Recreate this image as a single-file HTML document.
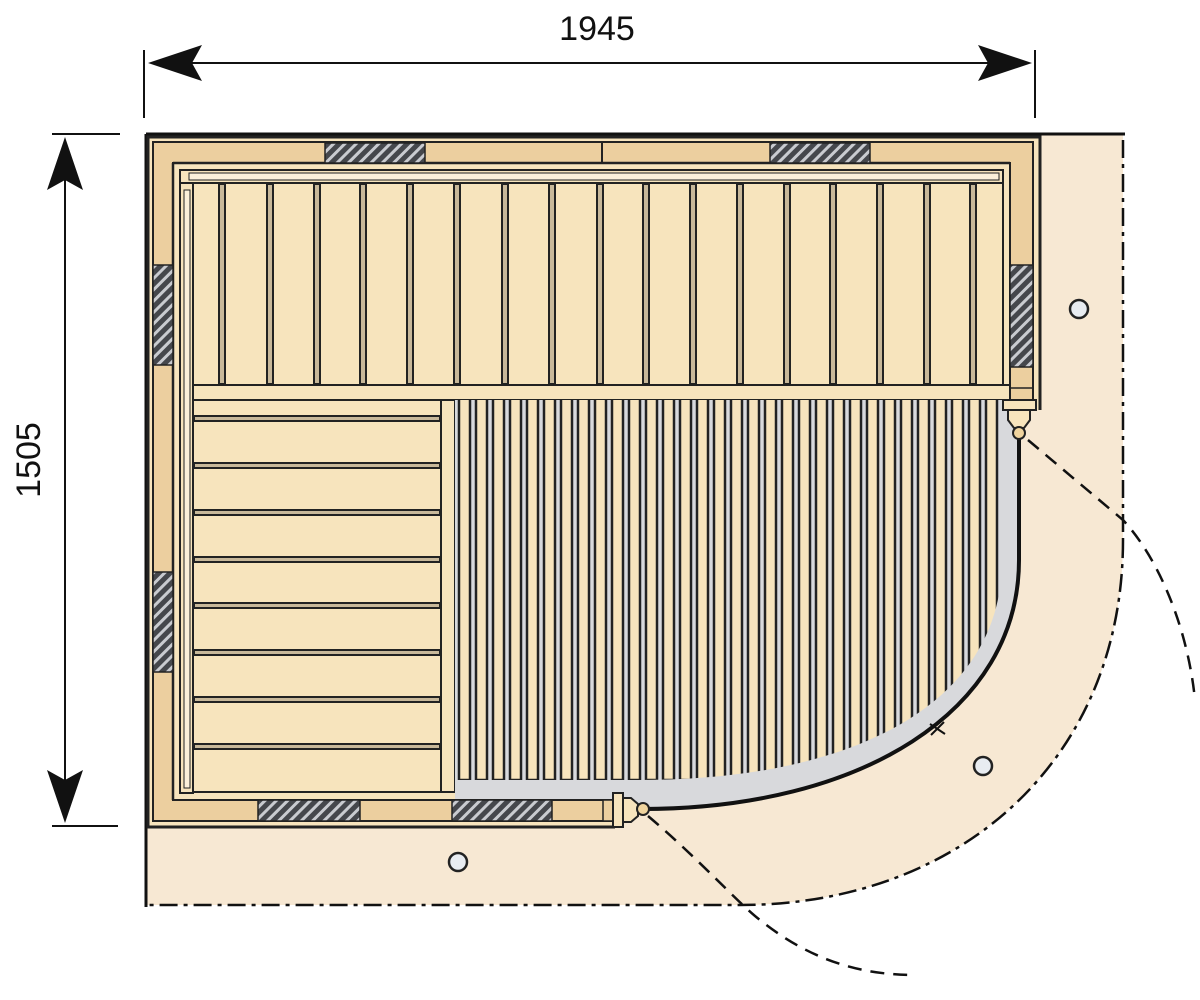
<!DOCTYPE html>
<html><head><meta charset="utf-8"><style>html,body{margin:0;padding:0;background:#fff}svg{display:block}</style></head>
<body>
<svg width="1200" height="1000" viewBox="0 0 1200 1000" xmlns="http://www.w3.org/2000/svg">
<defs>
<pattern id="h" width="8" height="8" patternUnits="userSpaceOnUse" patternTransform="rotate(45)">
<rect width="8" height="8" fill="#45474c"/><rect width="3" height="8" fill="#c9cbd0"/>
</pattern>
<clipPath id="fl"><path d="M455,400 H1002 V560 C1002,700 860,780 640,780 H455 Z"/></clipPath>
</defs>
<!-- floor -->
<path d="M146,135 H1123 V540 C1123,760 960,905 740,905 H146 Z" fill="#f7e8d3"/>
<line x1="146" y1="134" x2="1125" y2="134" stroke="#111" stroke-width="3"/>
<line x1="146" y1="134" x2="146" y2="907" stroke="#111" stroke-width="3"/>
<line x1="1123" y1="140" x2="1123" y2="540" stroke="#111" stroke-width="2.5" stroke-dasharray="18,6,4,6"/>
<path d="M1123,540 C1123,760 960,905 740,905 H146" fill="none" stroke="#111" stroke-width="2.5" stroke-dasharray="18,6,4,6"/>
<!-- sauna walls -->
<path d="M148,137 H1040 V410 H1003 V400 H455 V800 H613 V827 H148 Z" fill="#f7e4bd"/>
<path d="M153,142 H1033 V400 H1010 V163 H173 V800 H613 V821 H153 Z" fill="#eccf9f" stroke="#222" stroke-width="2"/>
<path d="M1040,410 V137 H148 V827 H615" fill="none" stroke="#222" stroke-width="3"/>
<line x1="173" y1="163" x2="1010" y2="163" stroke="#222" stroke-width="2.5"/>
<line x1="173" y1="163" x2="173" y2="800" stroke="#222" stroke-width="2.5"/>
<line x1="173" y1="800" x2="613" y2="800" stroke="#222" stroke-width="2"/>
<line x1="1010" y1="163" x2="1010" y2="400" stroke="#222" stroke-width="2"/>
<line x1="602" y1="143" x2="602" y2="163" stroke="#222" stroke-width="2"/>
<rect x="325" y="143" width="100" height="20" fill="url(#h)" stroke="#222" stroke-width="1.5"/>
<rect x="770" y="143" width="100" height="20" fill="url(#h)" stroke="#222" stroke-width="1.5"/>
<rect x="153" y="265" width="20" height="100" fill="url(#h)" stroke="#222" stroke-width="1.5"/>
<rect x="153" y="572" width="20" height="100" fill="url(#h)" stroke="#222" stroke-width="1.5"/>
<rect x="1010" y="265" width="23" height="102" fill="url(#h)" stroke="#222" stroke-width="1.5"/>
<line x1="1010" y1="388" x2="1033" y2="388" stroke="#222" stroke-width="1.5"/>
<rect x="258" y="800" width="102" height="21" fill="url(#h)" stroke="#222" stroke-width="1.5"/>
<rect x="452" y="800" width="100" height="21" fill="url(#h)" stroke="#222" stroke-width="1.5"/>
<rect x="603" y="800" width="10" height="21" fill="#eccf9f" stroke="#222" stroke-width="1.5"/>
<!-- inner side rails -->
<rect x="180" y="170" width="823" height="13" fill="#f7e4bd" stroke="#222" stroke-width="2"/>
<rect x="189" y="173" width="810" height="7" fill="#fbf0da" stroke="#222" stroke-width="1"/>
<rect x="180" y="183" width="13" height="610" fill="#f7e4bd" stroke="#222" stroke-width="2"/>
<rect x="184" y="190" width="6" height="598" fill="#fbf0da" stroke="#222" stroke-width="1"/>
<!-- upper bench -->
<rect x="193" y="183" width="810" height="202" fill="#f7e4bd" stroke="#222" stroke-width="2"/>
<g stroke="#222" stroke-width="2" fill="#c8b89a">
<rect x="219" y="184" width="6" height="200"/><rect x="267" y="184" width="6" height="200"/><rect x="314" y="184" width="6" height="200"/><rect x="360" y="184" width="6" height="200"/><rect x="407" y="184" width="6" height="200"/><rect x="454" y="184" width="6" height="200"/><rect x="502" y="184" width="6" height="200"/><rect x="549" y="184" width="6" height="200"/><rect x="597" y="184" width="6" height="200"/><rect x="643" y="184" width="6" height="200"/><rect x="690" y="184" width="6" height="200"/><rect x="737" y="184" width="6" height="200"/><rect x="784" y="184" width="6" height="200"/><rect x="830" y="184" width="6" height="200"/><rect x="877" y="184" width="6" height="200"/><rect x="924" y="184" width="6" height="200"/><rect x="970" y="184" width="6" height="200"/>
</g>
<rect x="193" y="385" width="817" height="15" fill="#f7e4bd" stroke="#222" stroke-width="2"/>
<!-- lower bench -->
<rect x="193" y="400" width="248" height="392" fill="#f7e4bd" stroke="#222" stroke-width="2"/>
<g stroke="#222" stroke-width="2" fill="#c8b89a">
<rect x="194" y="416" width="246" height="5"/><rect x="194" y="463" width="246" height="5"/><rect x="194" y="510" width="246" height="5"/><rect x="194" y="557" width="246" height="5"/><rect x="194" y="603" width="246" height="5"/><rect x="194" y="650" width="246" height="5"/><rect x="194" y="697" width="246" height="5"/><rect x="194" y="744" width="246" height="5"/>
</g>
<rect x="441" y="400" width="14" height="392" fill="#f7e4bd" stroke="#222" stroke-width="2"/>
<!-- glass + floor grate -->
<path d="M455,400 H1020 V560 C1020,712 860,810 640,810 L620,799 H455 Z" fill="#d8d9dc"/>
<g clip-path="url(#fl)" stroke="#222" stroke-width="2.5" fill="#f7e4bd">
<rect x="459" y="396" width="11" height="384"/><rect x="476" y="396" width="11" height="384"/><rect x="493" y="396" width="11" height="384"/><rect x="510" y="396" width="11" height="384"/><rect x="527" y="396" width="11" height="384"/><rect x="544" y="396" width="11" height="384"/><rect x="561" y="396" width="11" height="384"/><rect x="578" y="396" width="11" height="384"/><rect x="595" y="396" width="11" height="384"/><rect x="612" y="396" width="11" height="384"/><rect x="629" y="396" width="11" height="384"/><rect x="646" y="396" width="11" height="384"/><rect x="663" y="396" width="11" height="384"/><rect x="680" y="396" width="11" height="384"/><rect x="697" y="396" width="11" height="384"/><rect x="714" y="396" width="11" height="384"/><rect x="731" y="396" width="11" height="384"/><rect x="748" y="396" width="11" height="384"/><rect x="765" y="396" width="11" height="384"/><rect x="782" y="396" width="11" height="384"/><rect x="799" y="396" width="11" height="384"/><rect x="816" y="396" width="11" height="384"/><rect x="833" y="396" width="11" height="384"/><rect x="850" y="396" width="11" height="384"/><rect x="867" y="396" width="11" height="384"/><rect x="884" y="396" width="11" height="384"/><rect x="901" y="396" width="11" height="384"/><rect x="918" y="396" width="11" height="384"/><rect x="935" y="396" width="11" height="384"/><rect x="952" y="396" width="11" height="384"/><rect x="969" y="396" width="11" height="384"/><rect x="986" y="396" width="11" height="384"/>
</g>
<path d="M1019,438 V560 C1019,712 860,809 642,809" fill="none" stroke="#111" stroke-width="4"/>
<path d="M931,735 L944,722 M930,724 L945,734" stroke="#111" stroke-width="2"/>
<!-- hinges -->
<rect x="1003" y="400" width="33" height="10" fill="#f7e4bd" stroke="#222" stroke-width="2"/>
<path d="M1008,410 H1030 V420 L1024,428 H1014 L1008,420 Z" fill="#f7e4bd" stroke="#222" stroke-width="2"/>
<circle cx="1019" cy="433" r="6" fill="#f0d49e" stroke="#222" stroke-width="2"/>
<rect x="613" y="793" width="10" height="34" fill="#f7e4bd" stroke="#222" stroke-width="2"/>
<path d="M623,798 H631 L638,804 V816 L631,822 H623 Z" fill="#f7e4bd" stroke="#222" stroke-width="2"/>
<circle cx="643" cy="809" r="6" fill="#f0d49e" stroke="#222" stroke-width="2"/>
<!-- door swings -->
<path d="M1028,440 L1123,520 C1160,560 1188,630 1195,700" fill="none" stroke="#111" stroke-width="2.5" stroke-dasharray="14,9"/>
<path d="M648,816 C700,860 740,905 760,920 C810,960 860,975 915,975" fill="none" stroke="#111" stroke-width="2.5" stroke-dasharray="14,9"/>
<!-- circles -->
<g fill="#e8ecf1" stroke="#222" stroke-width="2.5">
<circle cx="1079" cy="309" r="9"/><circle cx="983" cy="766" r="9"/><circle cx="458" cy="862" r="9"/>
</g>
<!-- dimensions -->
<g stroke="#111" stroke-width="2">
<line x1="144" y1="50" x2="144" y2="118"/><line x1="1035" y1="50" x2="1035" y2="118"/>
<line x1="190" y1="63" x2="990" y2="63"/>
<line x1="52" y1="134" x2="120" y2="134"/><line x1="52" y1="826" x2="118" y2="826"/>
<line x1="65" y1="176" x2="65" y2="785"/>
</g>
<g fill="#111">
<path d="M148,63 L202,45 L192,63 L202,81 Z"/>
<path d="M1032,63 L978,45 L988,63 L978,81 Z"/>
<path d="M65,137 L47,190 L65,180 L83,190 Z"/>
<path d="M65,823 L47,770 L65,780 L83,770 Z"/>
</g>
<text x="597" y="40" font-family="Liberation Sans, sans-serif" font-size="34" text-anchor="middle" fill="#111">1945</text>
<text transform="translate(40,460) rotate(-90)" font-family="Liberation Sans, sans-serif" font-size="34" text-anchor="middle" fill="#111">1505</text>
</svg>
</body></html>
